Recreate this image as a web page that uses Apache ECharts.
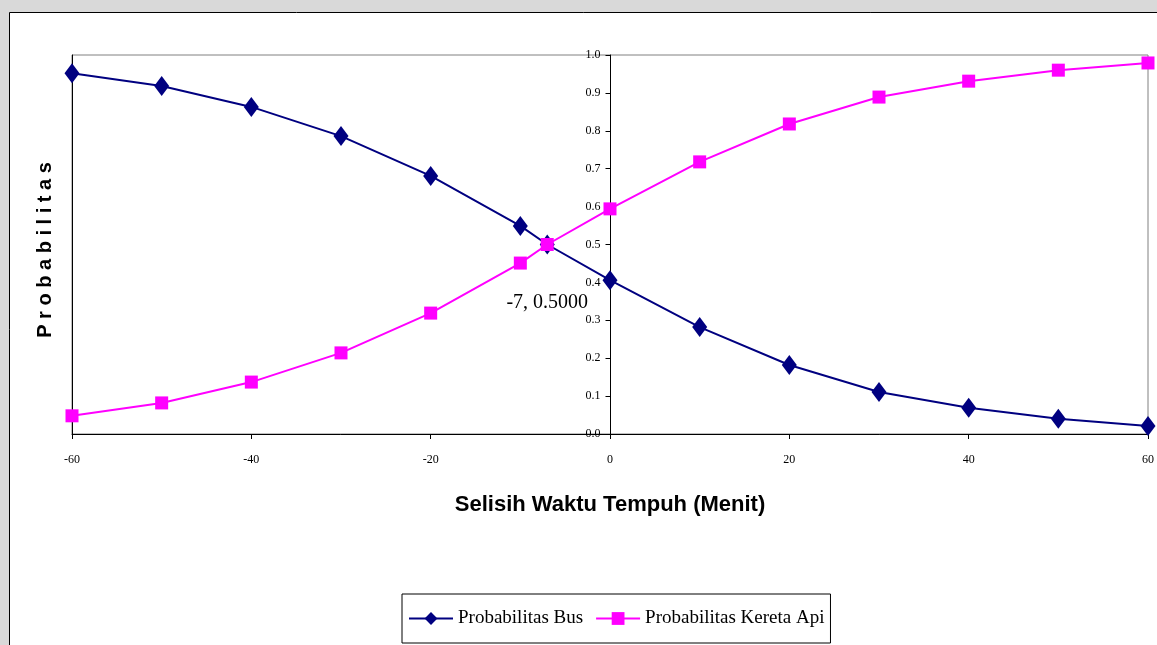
<!DOCTYPE html>
<html><head><meta charset="utf-8">
<script src="https://cdn.jsdelivr.net/npm/echarts@6/dist/echarts.min.js"></script>
<style>html,body{margin:0;padding:0;background:#d9d9d9;}#c{width:1157px;height:645px;}</style>
</head><body><div id="c"></div>
<script>
const xValues = [-60, -50, -40, -30, -20, -10, -7, 0, 10, 20, 30, 40, 50, 60];
const busValues = [0.952, 0.918, 0.863, 0.786, 0.681, 0.549, 0.5, 0.406, 0.282, 0.182, 0.111, 0.069, 0.040, 0.021];
const keretaValues = [0.048, 0.082, 0.137, 0.214, 0.319, 0.451, 0.5, 0.594, 0.718, 0.818, 0.889, 0.931, 0.960, 0.979];
const seriesNames = ['Probabilitas Bus', 'Probabilitas Kereta Api'];
const pointLabel = '-7, 0.5000';

const busData = xValues.map((x, i) => {
  const d = { value: [x, busValues[i]] };
  if (x === -7) {
    d.label = { show: true, formatter: pointLabel, position: 'bottom', distance: 38,
      fontFamily: 'Liberation Serif', fontSize: 20, color: '#000' };
  }
  return d;
});
const keretaData = xValues.map((x, i) => [x, keretaValues[i]]);

const chart = echarts.init(document.getElementById('c'));
chart.setOption({
  backgroundColor: '#d9d9d9',
  animation: false,
  graphic: [
    { type: 'rect', z: -10, shape: { x: 9.5, y: 12.5, width: 1160, height: 650 },
      style: { fill: '#ffffff', stroke: '#000', lineWidth: 1 } },
    { type: 'text', x: 45, y: 250, rotation: Math.PI / 2,
      style: { text: 'P r o b a b i l i t a s', font: 'bold 20px "Liberation Sans"', fill: '#000',
        align: 'center', verticalAlign: 'middle' } }
  ],
  grid: { left: 72, right: 8, top: 55, bottom: 211, show: true, borderColor: '#808080', borderWidth: 1, backgroundColor: 'transparent' },
  xAxis: {
    type: 'value', min: -60, max: 60, interval: 20,
    name: 'Selisih Waktu Tempuh (Menit)', nameLocation: 'middle', nameGap: 60,
    nameTextStyle: { fontFamily: 'Liberation Sans', fontWeight: 'bold', fontSize: 22, color: '#000' },
    axisLine: { lineStyle: { color: '#000', width: 1 } },
    axisTick: { show: true, length: 5, lineStyle: { color: '#000' } },
    axisLabel: { fontFamily: 'Liberation Serif', fontSize: 12, color: '#000', margin: 20 },
    splitLine: { show: false }
  },
  yAxis: [{
    type: 'value', min: 0, max: 1, interval: 0.1, position: 'left', offset: -538.5,
    axisLine: { show: true, onZero: false, lineStyle: { color: '#000', width: 1 } },
    axisTick: { show: true, length: 5, lineStyle: { color: '#000' } },
    axisLabel: { fontFamily: 'Liberation Serif', fontSize: 12, color: '#000', margin: 10,
      formatter: v => v.toFixed(1) },
    splitLine: { show: false }
  }, {
    type: 'value', min: 0, max: 1, interval: 0.1, position: 'left', offset: 0,
    axisLine: { show: true, onZero: false, lineStyle: { color: '#000', width: 1 } },
    axisTick: { show: false }, axisLabel: { show: false }, splitLine: { show: false }
  }],
  legend: {
    left: 402, top: 594, padding: [15, 6, 15, 6], itemGap: 12, itemWidth: 44, itemHeight: 16,
    borderColor: '#000', borderWidth: 1, backgroundColor: '#fff',
    textStyle: { fontFamily: 'Liberation Serif', fontSize: 19, color: '#000' },
    data: seriesNames
  },
  series: [
    { name: seriesNames[0], type: 'line', data: busData, symbol: 'diamond', symbolSize: [15, 20],
      color: '#000080', lineStyle: { color: '#000080', width: 2 }, itemStyle: { color: '#000080' } },
    { name: seriesNames[1], type: 'line', data: keretaData, symbol: 'rect', symbolSize: 13,
      color: '#ff00ff', lineStyle: { color: '#ff00ff', width: 2 }, itemStyle: { color: '#ff00ff' } }
  ]
});
</script></body></html>
